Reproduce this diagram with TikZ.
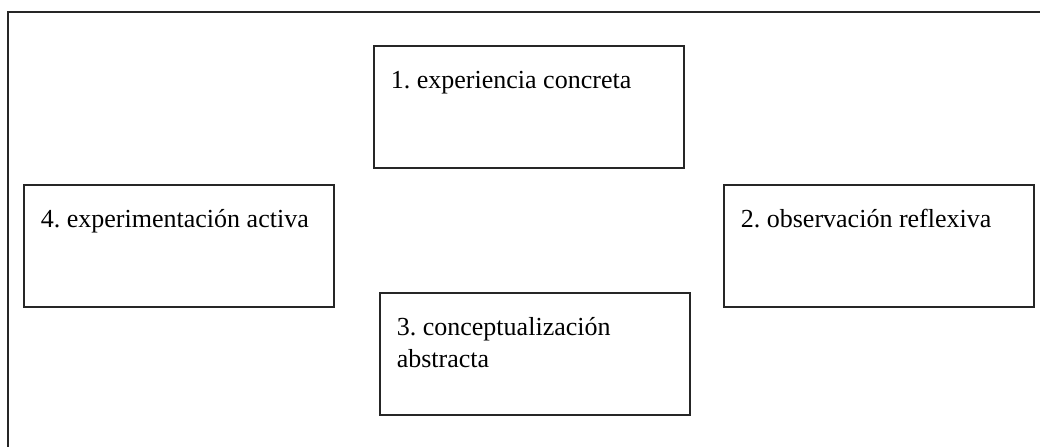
\documentclass[tikz,border=0pt]{standalone}
\usepackage{fontspec}
\setmainfont{Liberation Serif}
\usepackage{tikz}
\usetikzlibrary{positioning}
\frenchspacing

\begin{document}
\begin{tikzpicture}[x=0.025cm, y=-0.025cm,
		stagebox/.style={draw=black!85, line width=0.05cm, anchor=north west, inner xsep=0.42cm, inner ysep=0.5cm, font=\fontsize{18.5}{23}\selectfont}]
		\useasboundingbox (0,0) rectangle (1040,447);
		\clip (0,0) rectangle (1040,447);
		\draw[color=black!85, line width=0.035cm] (8,12) rectangle (1070,480);
		\node[stagebox] (experiencia) at (373,45) {\parbox[t][2.05cm][t]{6.91cm}{\raggedright\strut 1. experiencia concreta}};
		\node[stagebox] (observacion) at (723,184) {\parbox[t][2.05cm][t]{6.91cm}{\raggedright\strut 2. observación reflexiva}};
		\node[stagebox] (conceptualizacion) at (379,292) {\parbox[t][2.05cm][t]{6.91cm}{\raggedright\strut 3. conceptualización abstracta}};
		\node[stagebox] (experimentacion) at (23,184) {\parbox[t][2.05cm][t]{6.91cm}{\raggedright\strut 4. experimentación activa}};
\end{tikzpicture}
\end{document}
